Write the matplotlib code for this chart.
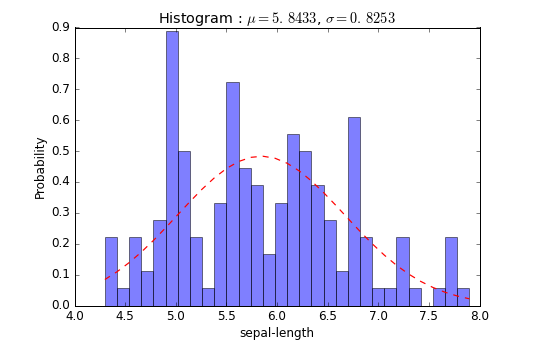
import numpy as np
import matplotlib
matplotlib.use("Agg")
import matplotlib.pyplot as plt

# Bin edges (30 bins over sepal-length range) and density heights
bin_edges = [4.3, 4.42, 4.54, 4.66, 4.78, 4.90, 5.02, 5.14, 5.26, 5.38, 5.50,
             5.62, 5.74, 5.86, 5.98, 6.10, 6.22, 6.34, 6.46, 6.58, 6.70,
             6.82, 6.94, 7.06, 7.18, 7.30, 7.42, 7.54, 7.66, 7.78, 7.90]
bin_counts = [4, 1, 4, 2, 5, 16, 9, 4, 1, 6, 13, 8, 7, 3, 6, 10, 9, 7, 5, 2,
              11, 4, 1, 1, 4, 1, 0, 1, 4, 1]
n_total = 150
mu = 5.8433
sigma = 0.8253

plt.style.use('classic')
fig = plt.figure(figsize=(556/72, 354/72), dpi=72, facecolor='white')
ax = fig.add_axes([74.5/556, 1 - 305.5/354, 405/556, 278/354])

edges = np.array(bin_edges)
widths = np.diff(edges)
heights = np.array(bin_counts) / (n_total * widths)
ax.bar(edges[:-1], heights, width=widths, align='edge', color='b', alpha=0.5,
       edgecolor='k', linewidth=1.0)

curve = 1.0 / (sigma * np.sqrt(2 * np.pi)) * np.exp(-0.5 * ((edges - mu) / sigma) ** 2)
ax.plot(edges, curve, 'r--', linewidth=1.2)

ax.set_xlim(4.0, 8.0)
ax.set_ylim(0.0, 0.9)
ax.set_xticks(np.arange(4.0, 8.01, 0.5))
ax.set_yticks(np.arange(0.0, 0.91, 0.1))
ax.set_xlabel('sepal-length')
ax.set_ylabel('Probability')
ax.set_title(r'Histogram : $\mu=5.\,8433$, $\sigma=0.\,8253$')

fig.savefig('out.png', dpi=72, facecolor='white')
